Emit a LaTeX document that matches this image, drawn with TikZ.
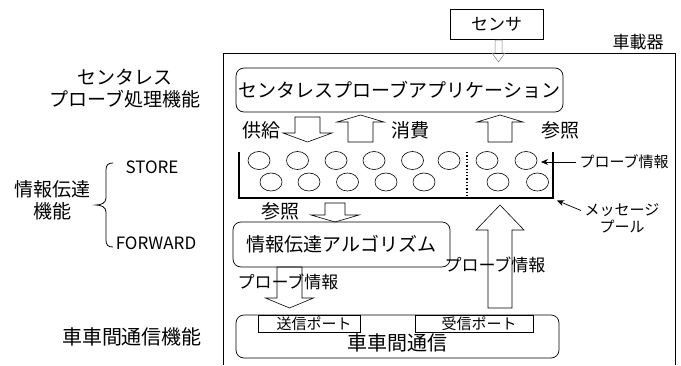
\documentclass[tikz,border=0pt]{standalone}
\usepackage{fontspec}
\setmainfont{Noto Sans CJK JP}
\usetikzlibrary{shapes.geometric,arrows.meta}
\newcommand\blkarrow[6]{% x, y of base end, y of head base, y of tip, shaft half width, head half width
  \draw[blockarr] ({#1-#5},#2) -- ({#1-#5},#3) -- ({#1-#6},#3) -- (#1,#4) -- ({#1+#6},#3) -- ({#1+#5},#3) -- ({#1+#5},#2) -- cycle;}
\begin{document}
\begin{tikzpicture}[x=1pt,y=-1pt,
  rbox/.style={draw, rounded corners=8pt, line width=0.7pt, inner sep=0pt},
  sbox/.style={draw, line width=0.7pt, inner sep=0pt},
  blockarr/.style={draw, line width=0.6pt, line join=miter},
  ball/.style={draw, ellipse, line width=0.6pt, minimum width=22pt, minimum height=18pt, inner sep=0pt},
  ptr/.style={-{Stealth[length=7pt,width=6pt]}, line width=0.7pt},
  big/.style={font=\fontsize{19pt}{22pt}\selectfont},
  mid/.style={font=\fontsize{17pt}{20pt}\selectfont},
  small/.style={font=\fontsize{15pt}{17pt}\selectfont},
  lat/.style={font=\fontsize{17pt}{20pt}\selectfont}]
\useasboundingbox (0,0) rectangle (681,365);
% outer vehicle box
\draw[line width=0.9pt] (223,365) -- (223,53) -- (675,53) -- (675,365);
\node[mid] (veh) at (638,42) {車載器};
% sensor
\node[sbox, minimum width=93pt, minimum height=30pt, mid] (sensor) at (496.5,24) {センサ};
\draw[gray, line width=0.5pt] (495,40) -- (495,53) -- (492,53) -- (498.5,62) -- (505,53) -- (502,53) -- (502,40) -- cycle;
% application
\node[rbox, minimum width=327pt, minimum height=44pt, big] (app) at (399.5,90) {センタレスプローブアプリケーション};
% block arrows around pool
\node[big] (supply) at (261,130) {供給};
\blkarrow{307.5}{117}{133}{142}{12.5}{24.5}
\blkarrow{360.5}{142}{122}{115}{12.5}{23.5}
\node[big] (consume) at (410,130) {消費};
\blkarrow{500}{142}{122}{115}{12}{23}
\node[big] (ref1) at (560,130) {参照};
% pool
\coordinate (pl) at (239,152);
\coordinate (pbl) at (239,198);
\coordinate (pbr) at (553,198);
\coordinate (pr) at (553,152);
\draw[line width=1.8pt] (pl) -- (pbl) -- (pbr) -- (pr);
\coordinate (dt) at (467,152);
\coordinate (db) at (467,198);
\draw[dotted, line width=1.3pt] (dt) -- (db);
\foreach \i/\x in {1/259,2/297.5,3/336,4/374,5/412.5,6/449,7/487,8/526}
  \node[ball] (a\i) at (\x,160.5) {};
\foreach \i/\x in {1/271,2/309,3/347.5,4/386,5/424,6/498,7/537.5}
  \node[ball] (b\i) at (\x,182) {};
% probe info label
\node[small, anchor=west] (pinfo) at (576,162) {プローブ情報};
\coordinate (ptip) at (541,162);
\draw[ptr] (pinfo.west) -- (ptip);
% message pool label
\node[small, align=center] (mpool) at (622,218.5) {メッセージ\\プール};
\coordinate (mtail) at (581,210.5);
\coordinate (mtip) at (557,200.5);
\draw[ptr] (mtail) -- (mtip);
% reference below pool
\node[big] (ref2) at (280,211) {参照};
\blkarrow{335}{203}{215}{222}{10}{24}
% algorithm
\node[rbox, minimum width=217pt, minimum height=45pt, big] (algo) at (341.5,244.5) {情報伝達アルゴリズム};
% big up arrow
\blkarrow{500}{308}{230}{205}{12}{24}
\node[mid] (pin2) at (495,265) {プローブ情報};
% left down arrow
\blkarrow{289.5}{267}{298}{308}{12.5}{24}
\node[mid] (pin3) at (288,282) {プローブ情報};
% v2v
\node[rbox, minimum width=323pt, minimum height=43pt] (v2v) at (397.5,336.5) {};
\node[font=\fontsize{20pt}{22pt}\selectfont] (v2vt) at (397,343) {車車間通信};
\node[sbox, minimum width=102pt, minimum height=17pt, small] (send) at (309,323.5) {\hspace*{10pt}送信ポート};
\node[sbox, minimum width=118pt, minimum height=17pt, small] (recv) at (474,323.5) {\hspace*{10pt}受信ポート};
% left column labels
\node[big, align=center] (l1) at (125,88.5) {センタレス\\プローブ処理機能};
\node[big, align=center] (l2) at (53,200.5) {情報伝達\\機能};
\node[lat] (store) at (152,167) {STORE};
\node[lat] (fwd) at (156,243) {FORWARD};
\draw[line width=0.8pt] (113,163) .. controls (108,163) and (106,165) .. (106,170) -- (106,198) .. controls (106,203) and (101,205) .. (96,205) .. controls (101,205) and (106,207) .. (106,212) -- (106,240) .. controls (106,245) and (108,247) .. (113,247);
\node[font=\fontsize{20pt}{22pt}\selectfont] (l3) at (132,337) {車車間通信機能};
\end{tikzpicture}
\end{document}
